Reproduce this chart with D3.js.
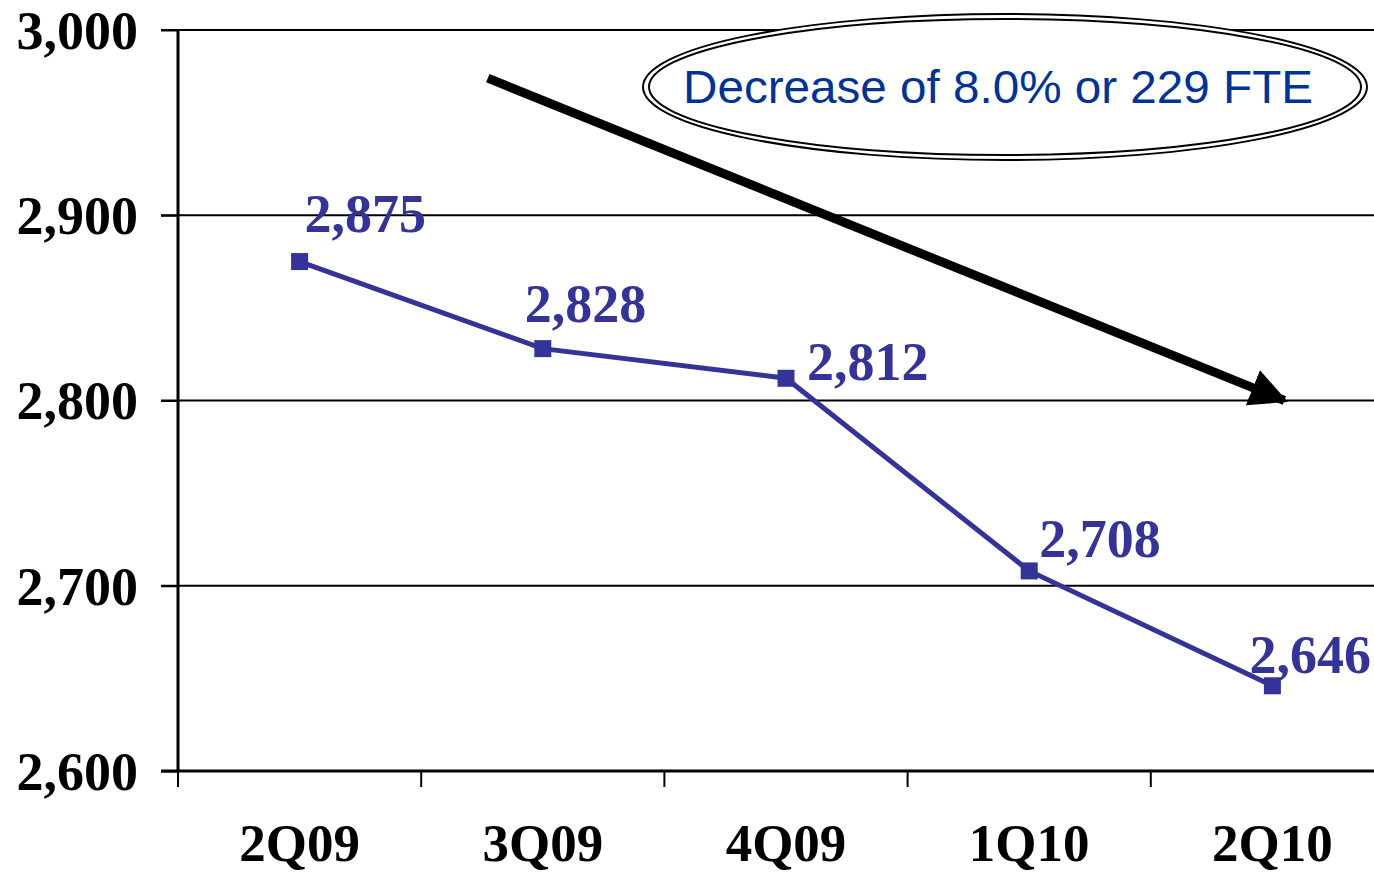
<!DOCTYPE html>
<html><head><meta charset="utf-8">
<script src="https://cdn.jsdelivr.net/npm/d3@7"></script>
<style>body{margin:0;background:#fff;}svg{display:block;}</style>
</head><body>
<svg id="c" width="1374" height="875"></svg>
<script>
const categories = ["2Q09","3Q09","4Q09","1Q10","2Q10"];
const values = [2875, 2828, 2812, 2708, 2646];
const labels = ["2,875","2,828","2,812","2,708","2,646"];
const yTicks = [2600, 2700, 2800, 2900, 3000];
const yTickLabels = ["2,600","2,700","2,800","2,900","3,000"];
const annotation = "Decrease of 8.0% or 229 FTE";
// label offsets relative to point (styling)
const labelDx = [5, -18, 21, 10, -23];
const labelDy = [-30, -27, 2, -14, -13];

const svg = d3.select("#c");
const x = d3.scaleBand().domain(categories).range([178, 1394]);
const y = d3.scaleLinear().domain([2600, 3000]).range([771, 30]);
const cx = d => x(d) + x.bandwidth()/2;

// gridlines
svg.append("g").selectAll("line").data(yTicks.slice(1)).join("line")
  .attr("x1", 161).attr("x2", 1374)
  .attr("y1", d => y(d)).attr("y2", d => y(d))
  .attr("stroke", "#000").attr("stroke-width", 2);

// y axis
const yAxis = svg.append("g").attr("transform", "translate(178,0)")
  .call(d3.axisLeft(y).tickValues(yTicks).tickSize(17).tickFormat((d,i) => yTickLabels[i]).tickPadding(23));
yAxis.select(".domain").attr("stroke-width", 3).attr("d", "M0,30V771");
yAxis.selectAll(".tick line").attr("stroke-width", 2);
yAxis.selectAll("text").attr("font-family", "Liberation Serif, Times New Roman, serif")
  .attr("font-weight", "bold").attr("font-size", 54).attr("fill", "#000").attr("dy", "0.34em");

// x axis
const xAxis = svg.append("g").attr("transform", "translate(0,771)")
  .call(d3.axisBottom(x).tickSize(0).tickPadding(53));
xAxis.select(".domain").attr("d", "M161,0H1374").attr("stroke-width", 3);
xAxis.selectAll("text").attr("font-family", "Liberation Serif, Times New Roman, serif")
  .attr("font-weight", "bold").attr("font-size", 53).attr("fill", "#000").attr("dy", "0.7em");
// x ticks at band boundaries
svg.append("g").selectAll("line").data(categories).join("line")
  .attr("x1", d => x(d)).attr("x2", d => x(d))
  .attr("y1", 771).attr("y2", 787)
  .attr("stroke", "#000").attr("stroke-width", 2);

// arrow
const defs = svg.append("defs");
defs.append("marker").attr("id","ah").attr("viewBox","0 0 10 10").attr("refX",9).attr("refY",5)
  .attr("markerWidth",4.2).attr("markerHeight",4.2).attr("orient","auto").attr("markerUnits","strokeWidth")
  .append("path").attr("d","M0,0L10,5L0,10Z").attr("fill","#000");
const a0 = [cx("3Q09") - 55, y(2974)];
const a1 = [cx("2Q10") + 12, y(2800)];
svg.append("line").attr("x1", a0[0]).attr("y1", a0[1]).attr("x2", a1[0]).attr("y2", a1[1])
  .attr("stroke","#000").attr("stroke-width",9).attr("marker-end","url(#ah)");

// ellipse annotation
const ex = 1005, ey = 87;
svg.append("ellipse").attr("cx", ex).attr("cy", ey).attr("rx", 362).attr("ry", 73)
  .attr("fill","#fff").attr("stroke","#000").attr("stroke-width",2);
svg.append("ellipse").attr("cx", ex).attr("cy", ey).attr("rx", 356).attr("ry", 68)
  .attr("fill","none").attr("stroke","#000").attr("stroke-width",2);
svg.append("text").attr("x", 683).attr("y", 103).text(annotation)
  .attr("font-family","Liberation Sans, Arial, sans-serif").attr("font-size",47)
  .attr("fill","#003399").attr("textLength",630).attr("lengthAdjust","spacingAndGlyphs");

// line
const line = d3.line().x((d,i) => cx(categories[i])).y(d => y(d));
svg.append("path").datum(values).attr("d", line).attr("fill","none")
  .attr("stroke","#333399").attr("stroke-width",5);
svg.append("g").selectAll("rect").data(values).join("rect")
  .attr("x", (d,i) => cx(categories[i]) - 8.5).attr("y", d => y(d) - 8.5)
  .attr("width", 17).attr("height", 17).attr("fill","#333399");
svg.append("g").selectAll("text").data(values).join("text")
  .attr("x", (d,i) => cx(categories[i]) + labelDx[i])
  .attr("y", (d,i) => y(d) + labelDy[i])
  .text((d,i) => labels[i])
  .attr("font-family","Liberation Serif, Times New Roman, serif").attr("font-weight","bold")
  .attr("font-size",54).attr("fill","#333399");
</script>
</body></html>
